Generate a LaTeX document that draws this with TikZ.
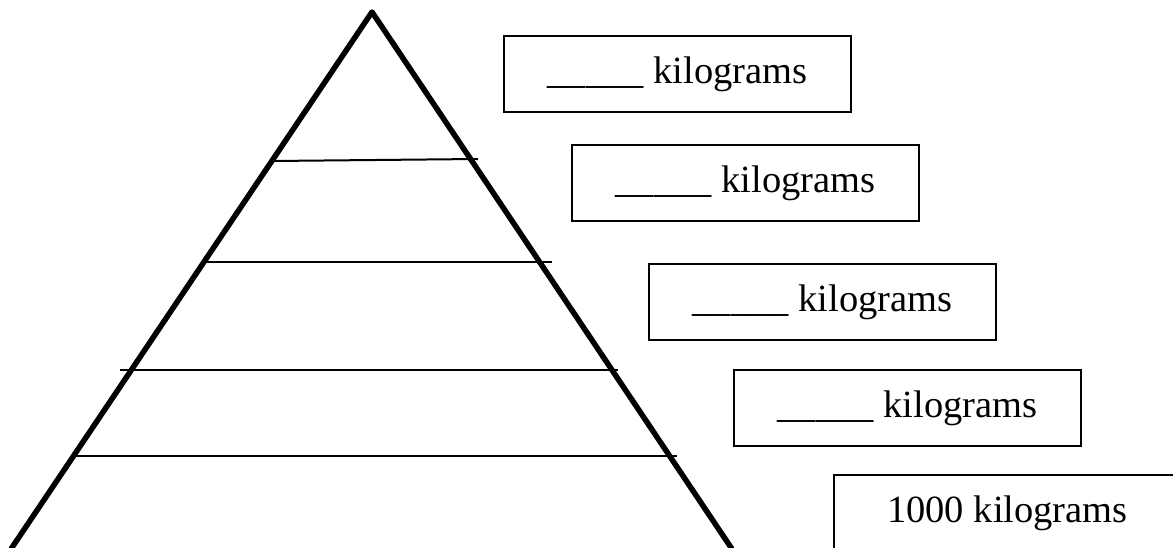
\documentclass[tikz,border=0pt]{standalone}
\usepackage{fontspec}
\setmainfont{Liberation Serif}
\begin{document}
\begin{tikzpicture}[x=1pt,y=-1pt,
  pyr/.style={line width=5.5pt,line join=round},
  tier/.style={line width=2pt},
  kgbox/.style={draw,line width=2pt,rectangle,minimum width=347pt,minimum height=76pt,inner sep=0pt,
    font=\fontsize{38.5}{40}\selectfont,anchor=north west}]
\useasboundingbox (0,0) rectangle (1173,548);
\clip (0,0) rectangle (1173,548);
\fill[white] (0,0) rectangle (1173,548);
% pyramid
\coordinate (apex) at (372,12);
\coordinate (bl) at (11,549);
\coordinate (br) at (732,549);
\draw[line width=1pt,gray] (bl) -- (br);
\draw[pyr] (bl) -- (apex) -- (br);
% tier lines
\coordinate (t1l) at (273,161); \coordinate (t1r) at (478,159);
\coordinate (t2l) at (203,262); \coordinate (t2r) at (552,262);
\coordinate (t3l) at (120,370); \coordinate (t3r) at (618,370);
\coordinate (t4l) at (74,456);  \coordinate (t4r) at (677,456);
\draw[tier] (t1l) -- (t1r);
\draw[tier] (t2l) -- (t2r);
\draw[tier] (t3l) -- (t3r);
\draw[tier] (t4l) -- (t4r);
% boxes
\node[kgbox] (b1) at (503,35) {\_\_\_\_\_ kilograms};
\node[kgbox] (b2) at (571,144) {\_\_\_\_\_ kilograms};
\node[kgbox] (b3) at (648,263) {\_\_\_\_\_ kilograms};
\node[kgbox] (b4) at (733,369) {\_\_\_\_\_ kilograms};
\node[kgbox] (b5) at (833,474) {1000 kilograms};
\end{tikzpicture}
\end{document}
